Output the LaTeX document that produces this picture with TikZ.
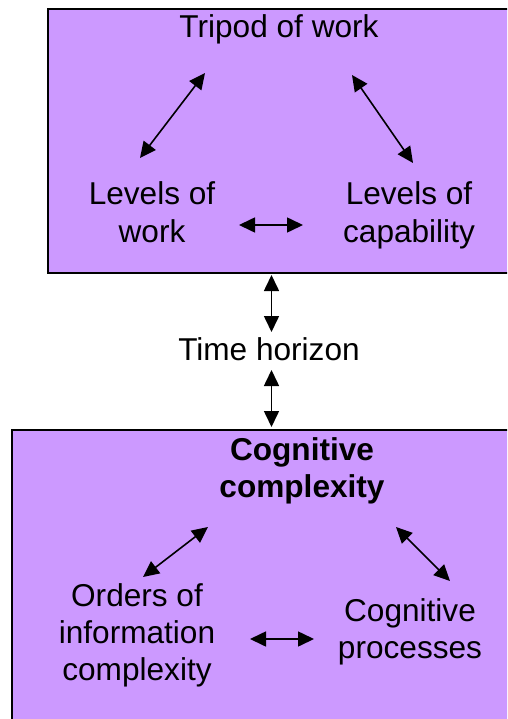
\documentclass[tikz,border=0pt]{standalone}
\usepackage{fontspec}
\setmainfont{Liberation Sans}
\usetikzlibrary{arrows.meta}
\definecolor{boxfill}{RGB}{204,153,255}
\begin{document}
\begin{tikzpicture}[x=1pt,y=-1pt,
  panel/.style={draw=black,line width=2pt,fill=boxfill},
  lbl/.style={inner sep=0pt,anchor=base,align=center,font=\fontsize{31.6}{37}\selectfont},
  link/.style={line width=1.6pt,{Triangle[length=16pt,width=15pt]}-{Triangle[length=16pt,width=15pt]}}]
\useasboundingbox (0,0) rectangle (507,719);
\clip (0,0) rectangle (507,719);
\fill[white] (0,0) rectangle (507,719);
\draw[panel] (48,9) rectangle (530,273);
\draw[panel] (12,430) rectangle (530,740);
% texts (base anchor = baseline of last line)
\node[lbl] (tripod) at (279,38) {Tripod of work};
\node[lbl] (lwork) at (152,242) {Levels of\\work};
\node[lbl] (lcap) at (409,242) {Levels of\\capability};
\node[lbl] (time) at (269,360) {Time horizon};
\node[lbl,font=\bfseries\fontsize{31.6}{37}\selectfont] (cogc) at (302,497) {Cognitive\\complexity};
\node[lbl] (orders) at (137,680) {Orders of\\information\\complexity};
\node[lbl] (cogp) at (410,658) {Cognitive\\processes};
% arrow end points
\coordinate (a1) at (140,158); \coordinate (a2) at (205,73);
\coordinate (b1) at (352,75); \coordinate (b2) at (413,163);
\coordinate (c1) at (239,225); \coordinate (c2) at (303,225);
\coordinate (d1) at (271.5,275); \coordinate (d2) at (271.5,332);
\coordinate (e1) at (271.5,370); \coordinate (e2) at (271.5,427);
\coordinate (f1) at (143,577); \coordinate (f2) at (208,527);
\coordinate (g1) at (396,527); \coordinate (g2) at (450,581);
\coordinate (h1) at (250,639); \coordinate (h2) at (314,639);
\draw[link] (a1) -- (a2);
\draw[link] (b1) -- (b2);
\draw[link] (c1) -- (c2);
\draw[link] (d1) -- (d2);
\draw[link] (e1) -- (e2);
\draw[link] (f1) -- (f2);
\draw[link] (g1) -- (g2);
\draw[link] (h1) -- (h2);
\end{tikzpicture}
\end{document}
